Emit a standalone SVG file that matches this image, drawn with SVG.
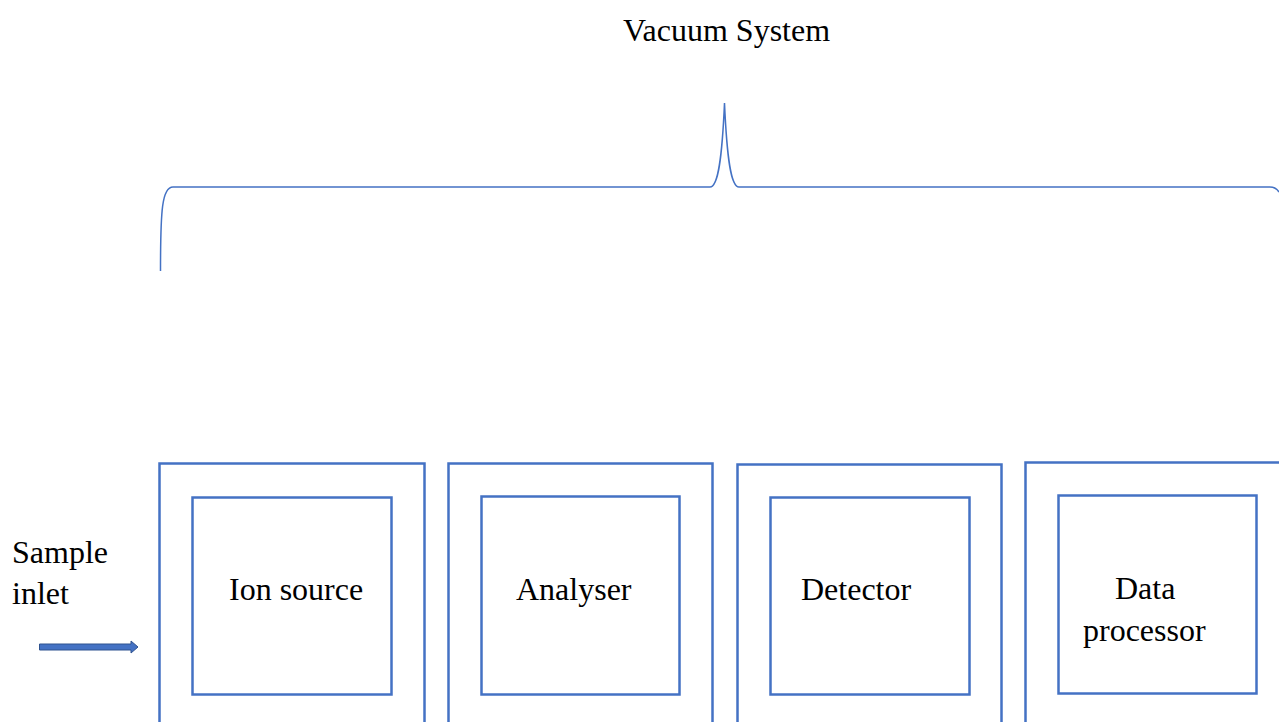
<svg xmlns="http://www.w3.org/2000/svg" width="1279" height="722" viewBox="0 0 1279 722">
<style>
.box{fill:none;stroke:#4472C4;stroke-width:2.5}
.t{font-family:"Liberation Serif","Times New Roman",serif;font-size:32px;fill:#000}
.brace{fill:none;stroke:#4472C4;stroke-width:1.5}
</style>
<rect width="1279" height="722" fill="#fff"/>
<g id="vacuum-label"><text class="t" x="623" y="41">Vacuum System</text></g>
<g id="vacuum-brace"><path class="brace" d="M160.5,271 C160.5,210 162,187 173,187 L710,187 C718,187 722,160 724.5,103 C727,160 731,187 739,187 L1270,187 C1274,187 1277,189 1279,192"/></g>
<g id="sample-inlet"><text class="t" x="12" y="563">Sample</text><text class="t" x="12" y="604">inlet</text></g>
<g id="ion-source"><rect class="box" x="159.5" y="463.5" width="265" height="270"/><rect class="box" x="192.5" y="497.5" width="199" height="197"/><text class="t" x="229" y="600">Ion source</text></g>
<g id="analyser"><rect class="box" x="448.5" y="463.5" width="264" height="270"/><rect class="box" x="481.5" y="496.5" width="198" height="198"/><text class="t" x="516" y="600">Analyser</text></g>
<g id="detector"><rect class="box" x="737.5" y="464.5" width="264" height="270"/><rect class="box" x="770.5" y="497.5" width="199" height="197"/><text class="t" x="801" y="600">Detector</text></g>
<g id="data-processor"><rect class="box" x="1025.5" y="462.5" width="270" height="270"/><rect class="box" x="1058.5" y="495.5" width="198" height="198"/><text class="t" x="1115" y="599">Data</text><text class="t" x="1083" y="641">processor</text></g>
<g id="connectors"><path d="M39.5,644 L131,644 L131,641 L138,647 L131,653 L131,650 L39.5,650 Z" fill="#4472C4" stroke="#2F528F" stroke-width="1"/></g>
</svg>
